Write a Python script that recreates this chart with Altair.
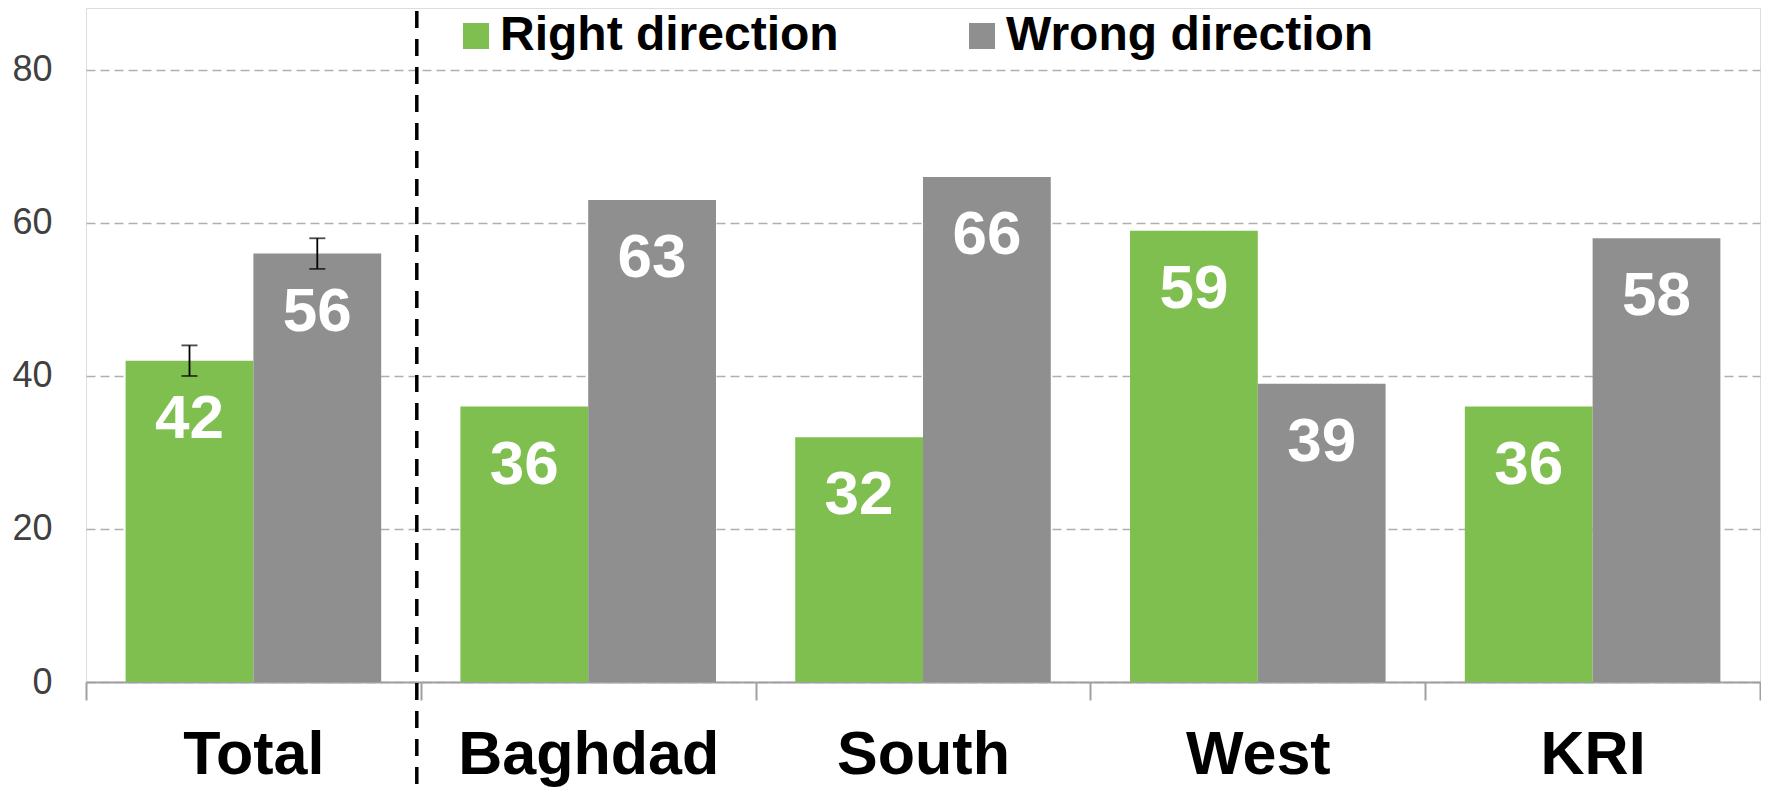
import altair as alt
import pandas as pd

regions = ["Total", "Baghdad", "South", "West", "KRI"]
series = ["Right direction", "Wrong direction"]
right_vals = [42, 36, 32, 59, 36]
wrong_vals = [56, 63, 66, 39, 58]
# margin of error (only shown for Total)
err_right = [2, None, None, None, None]
err_wrong = [2, None, None, None, None]
colors = ["#7FBF4F", "#8F8F8F"]
y_ticks = [0, 20, 40, 60, 80]

rows = []
for i, r in enumerate(regions):
    for s, v, e in ((series[0], right_vals[i], err_right[i]), (series[1], wrong_vals[i], err_wrong[i])):
        row = {"region": r, "series": s, "value": v}
        if e is not None:
            row["lo"] = v - e
            row["hi"] = v + e
        rows.append(row)
df = pd.DataFrame(rows)
err_df = df.dropna(subset=["lo"])
sep_df = pd.DataFrame({"region": ["Baghdad"], "top": [87.7], "bottom": [-15]})

FONT = "Liberation Sans"

x_enc = alt.X(
    "region:N",
    sort=regions,
    scale=alt.Scale(paddingInner=0, paddingOuter=0),
    axis=alt.Axis(
        title=None,
        labelAngle=0,
        labelFont=FONT,
        labelFontSize=61,
        labelFontWeight="bold",
        labelColor="#000000",
        labelPadding=25,
        labelLimit=600,
        tickBand="extent",
        tickSize=18,
        tickWidth=2,
        tickColor="#A0A0A0",
        domainColor="#A0A0A0",
        domainWidth=2,
        grid=False,
    ),
)
y_scale = alt.Scale(domain=[0, 88.1], nice=False, zero=True)
y_enc = alt.Y(
    "value:Q",
    scale=y_scale,
    axis=alt.Axis(
        title=None,
        values=y_ticks,
        labelFont=FONT,
        labelFontSize=36,
        labelColor="#404040",
        labelPadding=34,
        ticks=False,
        domain=False,
        grid=True,
        gridColor="#B0B0B0",
        gridDash=[9, 5],
        gridWidth=1.5,
    ),
)
xoff = alt.XOffset("series:N", sort=series, scale=alt.Scale(paddingOuter=0.31, paddingInner=0))

bars = alt.Chart(df).mark_bar().encode(
    x=x_enc,
    y=y_enc,
    xOffset=xoff,
    color=alt.Color(
        "series:N",
        sort=series,
        scale=alt.Scale(domain=series, range=colors),
        legend=alt.Legend(
            title=None,
            orient="none",
            direction="horizontal",
            legendX=366,
            legendY=4,
            symbolType="square",
            symbolSize=676,
            symbolStrokeWidth=0,
            labelFont=FONT,
            labelFontSize=48,
            labelFontWeight="bold",
            labelColor="#000000",
            labelOffset=0,
            labelLimit=600,
            columnPadding=119,
            padding=0,
        ),
    ),
)

labels = alt.Chart(df).mark_text(
    font=FONT, fontSize=62, fontWeight="bold", color="white", baseline="middle", dy=58
).encode(
    x=alt.X("region:N", sort=regions),
    y=alt.Y("value:Q", scale=y_scale),
    xOffset=xoff,
    text=alt.Text("value:Q"),
)

err_rule = alt.Chart(err_df).mark_rule(color="black", strokeWidth=1.8).encode(
    x=alt.X("region:N", sort=regions),
    y=alt.Y("lo:Q", scale=y_scale),
    y2="hi:Q",
    xOffset=xoff,
)
err_lo = alt.Chart(err_df).mark_tick(color="black", size=16, thickness=1.8, orient="horizontal").encode(
    x=alt.X("region:N", sort=regions),
    y=alt.Y("lo:Q", scale=y_scale),
    xOffset=xoff,
)
err_hi = alt.Chart(err_df).mark_tick(color="black", size=16, thickness=1.8, orient="horizontal").encode(
    x=alt.X("region:N", sort=regions),
    y=alt.Y("hi:Q", scale=y_scale),
    xOffset=xoff,
)

sep = alt.Chart(sep_df).mark_rule(
    color="black", strokeWidth=3.5, strokeDash=[17, 11], xOffset=-4
).encode(
    x=alt.X("region:N", sort=regions, bandPosition=0),
    y=alt.Y("top:Q", scale=y_scale),
    y2="bottom:Q",
)

chart = (
    alt.layer(bars, labels, err_rule, err_lo, err_hi, sep)
    .properties(
        width=1674,
        height=674,
        autosize=alt.AutoSizeParams(type="none"),
        padding={"left": 78, "top": 0, "right": 1, "bottom": 105},
    )
    .configure_view(stroke=None)
    .configure(background="white")
)

chart.save("out.html", embed_options={"renderer": "svg", "actions": False})
